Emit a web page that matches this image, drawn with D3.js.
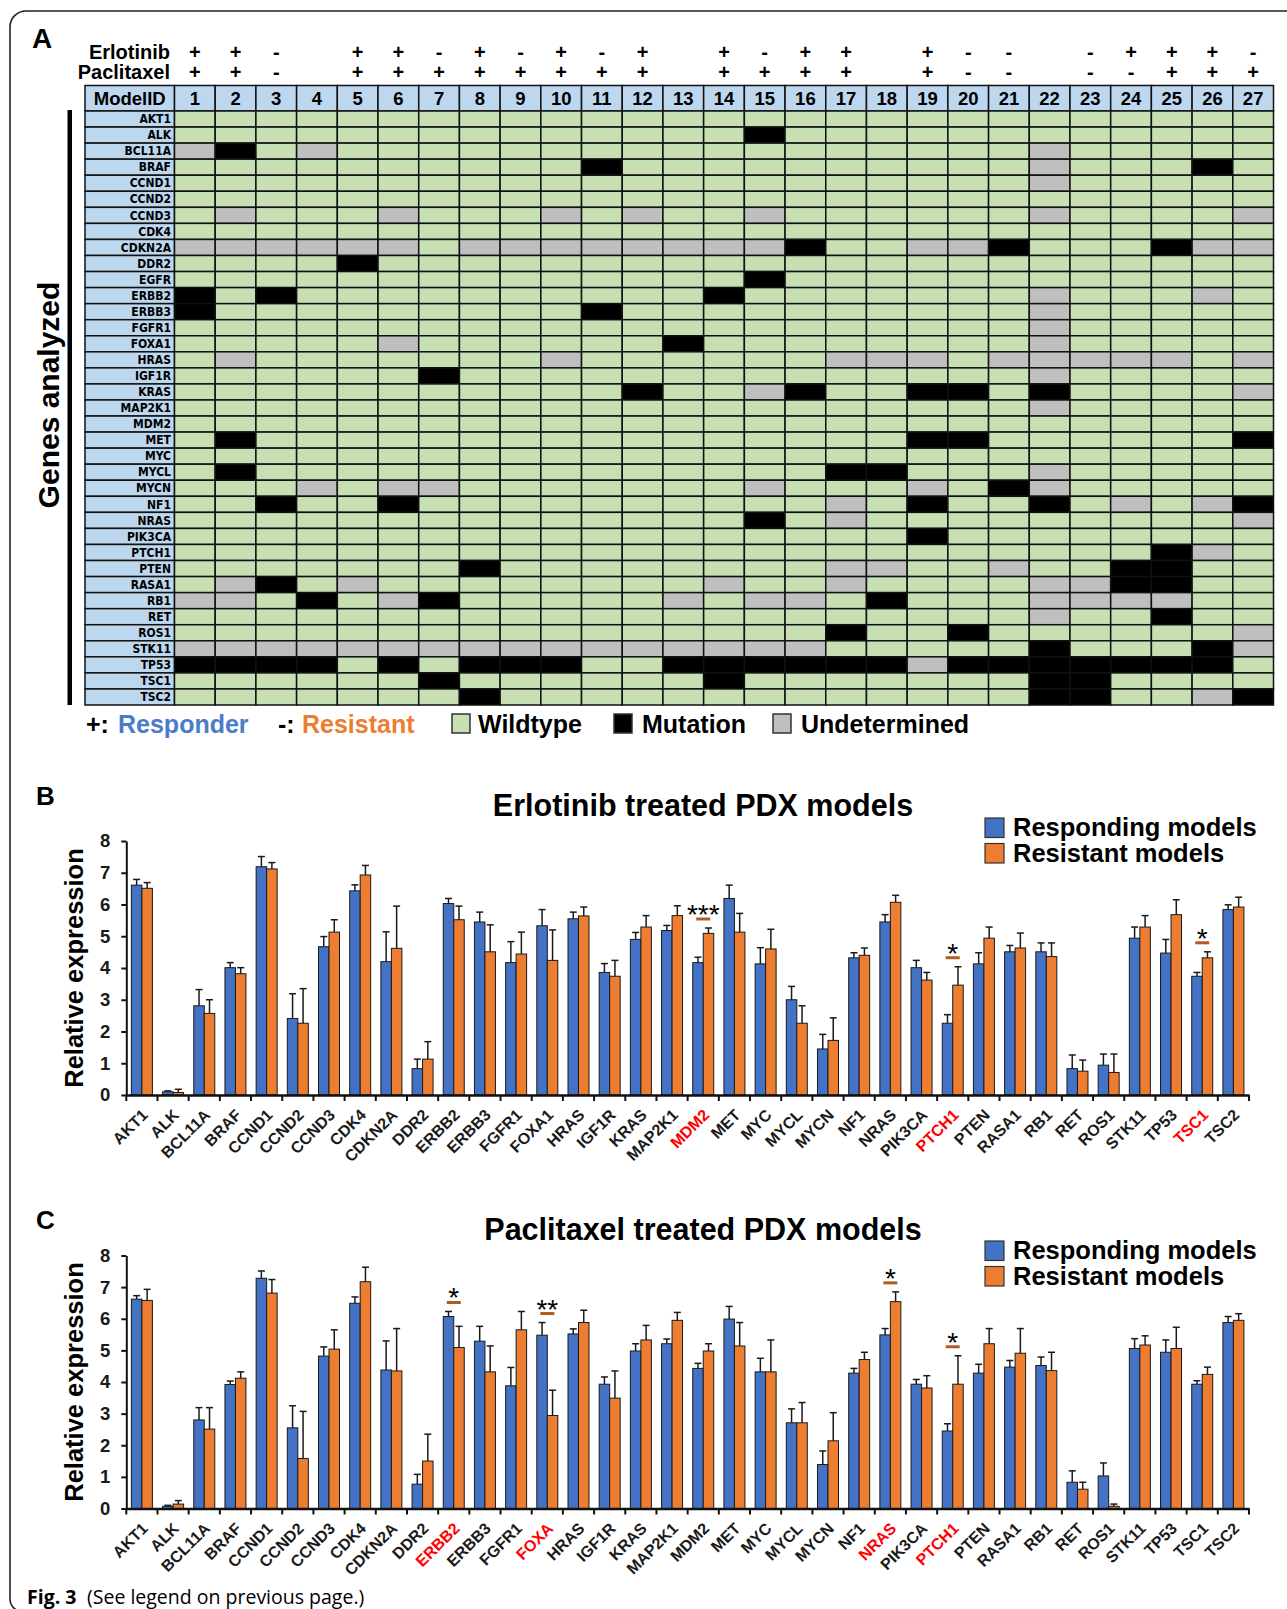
<!DOCTYPE html>
<html><head><meta charset="utf-8">
<script src="https://cdnjs.cloudflare.com/ajax/libs/d3/7.8.5/d3.min.js"></script>
<style>
html,body{margin:0;padding:0;background:#fff;}
text{font-family:"Liberation Sans",Arial,Helvetica,sans-serif;}
</style></head><body>
<svg id="fig" width="1287" height="1609" xmlns="http://www.w3.org/2000/svg"></svg>
<script>
// ---------------- Panel A data ----------------
const models = d3.range(1, 28).map(String);
const erlotinib  = ["+","+","-","","+","+","-","+","-","+","-","+","","+","-","+","+","","+","-","-","","-","+","+","+","-"];
const paclitaxel = ["+","+","-","","+","+","+","+","+","+","+","+","","+","+","+","+","","+","-","-","","-","-","+","+","+"];
const genes = ["AKT1","ALK","BCL11A","BRAF","CCND1","CCND2","CCND3","CDK4","CDKN2A","DDR2","EGFR","ERBB2","ERBB3","FGFR1","FOXA1","HRAS","IGF1R","KRAS","MAP2K1","MDM2","MET","MYC","MYCL","MYCN","NF1","NRAS","PIK3CA","PTCH1","PTEN","RASA1","RB1","RET","ROS1","STK11","TP53","TSC1","TSC2"];
// 0 = Wildtype, 1 = Mutation, 2 = Undetermined ; models 1..27
const geneStatus = [
  "000000000000000000000000000", // AKT1
  "000000000000001000000000000", // ALK
  "210200000000000000000200000", // BCL11A
  "000000000010000000000200010", // BRAF
  "000000000000000000000200000", // CCND1
  "000000000000000000000000000", // CCND2
  "020002000202002000000200002", // CCND3
  "000000000000000000000000000", // CDK4
  "222222022222222100221000122", // CDKN2A
  "000010000000000000000000000", // DDR2
  "000000000000001000000000000", // EGFR
  "101000000000010000000200020", // ERBB2
  "100000000010000000000200000", // ERBB3
  "000000000000000000000200000", // FGFR1
  "000002000000100000000200000", // FOXA1
  "020000000200000022202222202", // HRAS
  "000000100000000000000200000", // IGF1R
  "000000000001002100110100002", // KRAS
  "000000000000000000000200000", // MAP2K1
  "000000000000000000000000000", // MDM2
  "010000000000000000110000001", // MET
  "000000000000000000000000000", // MYC
  "010000000000000011000200000", // MYCL
  "000202200000002000201200000", // MYCN
  "001001000000000020100102021", // NF1
  "000000000000001020000000002", // NRAS
  "000000000000000000100000000", // PIK3CA
  "000000000000000000000000120", // PTCH1
  "000000010000000022002001100", // PTEN
  "021020000000020020000221100", // RASA1
  "220102100000202201000222200", // RB1
  "000000000000000000000200100", // RET
  "000000000000000010010000002", // ROS1
  "222222222222222200000100012", // STK11
  "111101011100111111211111110", // TP53
  "000000100000010000000110000", // TSC1
  "000000010000000000000110021"  // TSC2
];

// ---------------- Panel B data (Erlotinib) ----------------
const catsB = ["AKT1","ALK","BCL11A","BRAF","CCND1","CCND2","CCND3","CDK4","CDKN2A","DDR2","ERBB2","ERBB3","FGFR1","FOXA1","HRAS","IGF1R","KRAS","MAP2K1","MDM2","MET","MYC","MYCL","MYCN","NF1","NRAS","PIK3CA","PTCH1","PTEN","RASA1","RB1","RET","ROS1","STK11","TP53","TSC1","TSC2"];
const bRespMean = [6.61,0.10,2.81,4.01,7.19,2.41,4.67,6.43,4.20,0.83,6.03,5.45,4.17,5.33,5.55,3.86,4.90,5.18,4.17,6.19,4.13,3.00,1.45,4.32,5.45,4.01,2.26,4.13,4.51,4.51,0.83,0.94,4.94,4.47,3.74,5.84];
const bRespErr  = [0.18,0.03,0.51,0.16,0.32,0.78,0.32,0.19,0.94,0.30,0.16,0.31,0.66,0.51,0.21,0.28,0.22,0.16,0.17,0.42,0.51,0.42,0.46,0.16,0.23,0.23,0.27,0.35,0.20,0.28,0.43,0.35,0.35,0.43,0.12,0.15];
const bResMean  = [6.51,0.08,2.57,3.82,7.12,2.26,5.13,6.93,4.62,1.13,5.52,4.51,4.44,4.24,5.64,3.74,5.29,5.65,5.09,5.13,4.60,2.26,1.72,4.40,6.07,3.62,3.46,4.94,4.63,4.36,0.75,0.71,5.29,5.68,4.32,5.92];
const bResErr   = [0.18,0.10,0.43,0.19,0.20,1.09,0.39,0.30,1.33,0.55,0.43,0.85,0.69,0.96,0.28,0.50,0.36,0.31,0.17,0.59,0.62,0.55,0.71,0.23,0.22,0.24,0.58,0.35,0.47,0.43,0.35,0.58,0.36,0.47,0.19,0.31];
const sigB = [{cat:"MDM2", mark:"***"},{cat:"PTCH1", mark:"*"},{cat:"TSC1", mark:"*"}];
const redB = ["MDM2","PTCH1","TSC1"];

// ---------------- Panel C data (Paclitaxel) ----------------
const catsC = ["AKT1","ALK","BCL11A","BRAF","CCND1","CCND2","CCND3","CDK4","CDKN2A","DDR2","ERBB2","ERBB3","FGFR1","FOXA","HRAS","IGF1R","KRAS","MAP2K1","MDM2","MET","MYC","MYCL","MYCN","NF1","NRAS","PIK3CA","PTCH1","PTEN","RASA1","RB1","RET","ROS1","STK11","TP53","TSC1","TSC2"];
const cRespMean = [6.62,0.07,2.80,3.92,7.28,2.55,4.82,6.49,4.38,0.77,6.07,5.29,3.88,5.48,5.52,3.93,4.98,5.21,4.43,5.99,4.32,2.71,1.39,4.28,5.49,3.93,2.45,4.28,4.47,4.52,0.83,1.03,5.06,4.94,3.93,5.88];
const cRespErr  = [0.11,0.03,0.39,0.11,0.23,0.70,0.29,0.20,0.92,0.31,0.16,0.47,0.58,0.40,0.16,0.23,0.23,0.15,0.16,0.40,0.43,0.44,0.43,0.15,0.20,0.15,0.23,0.28,0.21,0.27,0.36,0.41,0.31,0.39,0.11,0.19];
const cResMean  = [6.58,0.14,2.51,4.12,6.81,1.58,5.04,7.17,4.35,1.50,5.09,4.32,5.65,2.94,5.88,3.49,5.33,5.95,4.98,5.14,4.32,2.71,2.14,4.71,6.54,3.81,3.93,5.21,4.91,4.36,0.61,0.07,5.17,5.06,4.24,5.95];
const cResErr   = [0.35,0.11,0.68,0.20,0.43,1.49,0.61,0.46,1.34,0.85,0.67,0.82,0.58,0.80,0.39,0.86,0.46,0.25,0.23,0.74,1.01,0.64,0.89,0.23,0.31,0.39,0.90,0.48,0.78,0.58,0.22,0.07,0.29,0.67,0.23,0.21];
const sigC = [{cat:"ERBB2", mark:"*"},{cat:"FOXA", mark:"**"},{cat:"NRAS", mark:"*"},{cat:"PTCH1", mark:"*"}];
const redC = ["ERBB2","FOXA","NRAS","PTCH1"];

const yTicks = [0,1,2,3,4,5,6,7,8];
const seriesNames = ["Responding models","Resistant models"];
const seriesColors = ["#4472c4","#ed7d31"];

// ---------------- Drawing ----------------
const svg = d3.select("#fig");
const BOLD = "bold";

// frame
svg.append("path")
  .attr("d","M1290,11 H26 A16,16 0 0 0 10,27 V1598 A12,12 0 0 0 20,1611")
  .attr("fill","none").attr("stroke","#222").attr("stroke-width",1.6);

// ===== Panel A =====
svg.append("text").attr("x",32).attr("y",48).attr("font-size",28).attr("font-weight",BOLD).text("A");

const colX = d3.scaleBand().domain(models).range([174.5, 1273.5]);
const rowY = d3.scaleBand().domain(genes).range([111, 705]);
const hm = svg.append("g");
const statusFill = {"0":"#c6e0b4","1":"#000000","2":"#bfbfbf"};

[{label:"Erlotinib", vals:erlotinib, y:59},{label:"Paclitaxel", vals:paclitaxel, y:79}].forEach(t => {
  hm.append("text").attr("x",170).attr("y",t.y).attr("text-anchor","end")
    .attr("font-size",20).attr("font-weight",BOLD).text(t.label);
  hm.selectAll(null).data(models).enter().append("text")
    .attr("x", d => colX(d) + colX.bandwidth()/2).attr("y", t.y)
    .attr("text-anchor","middle").attr("font-size",20).attr("font-weight",BOLD)
    .text((d,i) => t.vals[i]);
});

// header row
hm.append("rect").attr("x",85).attr("y",85.5).attr("width",174.5-85).attr("height",25.5)
  .attr("fill","#bdd7ee").attr("stroke","#111").attr("stroke-width",1.5);
hm.append("text").attr("x",(85+174.5)/2).attr("y",105).attr("text-anchor","middle")
  .attr("font-size",18.5).attr("font-weight",BOLD).text("ModelID");
hm.selectAll(".hc").data(models).enter().append("rect")
  .attr("x", d => colX(d)).attr("y",85.5).attr("width",colX.bandwidth()).attr("height",25.5)
  .attr("fill","#bdd7ee").attr("stroke","#111").attr("stroke-width",1.5);
hm.selectAll(".hn").data(models).enter().append("text")
  .attr("x", d => colX(d) + colX.bandwidth()/2).attr("y",105).attr("text-anchor","middle")
  .attr("font-size",18.5).attr("font-weight",BOLD).text(d => d);

// gene column
hm.selectAll(".gc").data(genes).enter().append("rect")
  .attr("x",85).attr("y", d => rowY(d)).attr("width",174.5-85).attr("height",rowY.bandwidth())
  .attr("fill","#bdd7ee").attr("stroke","#111").attr("stroke-width",1.5);
hm.selectAll(".gl").data(genes).enter().append("text")
  .attr("x",171).attr("y", d => rowY(d) + rowY.bandwidth()/2 + 4.2)
  .attr("text-anchor","end").attr("font-size",12).attr("font-weight",BOLD)
  .style("font-family","'Liberation Sans Narrow','Arial Narrow','DejaVu Sans Condensed',sans-serif")
  .text(d => d);

// cells
const cells = genes.flatMap((g, gi) => models.map((m, mi) => ({g, m, s: geneStatus[gi][mi]})));
hm.selectAll(".cell").data(cells).enter().append("rect")
  .attr("x", d => colX(d.m)).attr("y", d => rowY(d.g))
  .attr("width", colX.bandwidth()).attr("height", rowY.bandwidth())
  .attr("fill", d => statusFill[d.s]).attr("stroke","#111").attr("stroke-width",1.5);

// Genes analyzed
svg.append("text").attr("transform","translate(59,395) rotate(-90)").attr("text-anchor","middle")
  .attr("font-size",30).attr("font-weight",BOLD).text("Genes analyzed");
svg.append("rect").attr("x",67.5).attr("y",110).attr("width",4.5).attr("height",595).attr("fill","#000");

// legend A
const lgA = svg.append("g").attr("font-size",25).attr("font-weight",BOLD);
lgA.append("text").attr("x",86).attr("y",733).text("+: ").append("tspan").attr("x",118).attr("fill","#4a7cc9").text("Responder");
lgA.append("text").attr("x",278).attr("y",733).text("-: ").append("tspan").attr("x",302).attr("fill","#ed7d31").text("Resistant");
[{x:452, fill:"#c6e0b4", label:"Wildtype", tx:478},
 {x:614, fill:"#000000", label:"Mutation", tx:642},
 {x:773, fill:"#bfbfbf", label:"Undetermined", tx:801}].forEach(l => {
  lgA.append("rect").attr("x",l.x).attr("y",714).attr("width",18).attr("height",19)
    .attr("fill",l.fill).attr("stroke","#333").attr("stroke-width",1.5);
  lgA.append("text").attr("x",l.tx).attr("y",733).text(l.label);
});

// ===== Bar charts =====
function drawBars(cfg) {
  const g = svg.append("g");
  const x = d3.scaleBand().domain(cfg.cats).range([126.3, 1249]).padding(0);
  const xs = d3.scaleBand().domain([0,1]).range([0, x.bandwidth()]).paddingInner(0).paddingOuter(0.485);
  const y = d3.scaleLinear().domain([0,8]).range([cfg.y0, cfg.y8]);
  const rows = cfg.cats.flatMap((c,i) => [
    {c, k:0, v:cfg.m[0][i], e:cfg.e[0][i]},
    {c, k:1, v:cfg.m[1][i], e:cfg.e[1][i]}]);

  // letter + title
  g.append("text").attr("x",36).attr("y",cfg.letterY).attr("font-size",26).attr("font-weight",BOLD).text(cfg.letter);
  g.append("text").attr("x",703).attr("y",cfg.titleY).attr("text-anchor","middle")
    .attr("font-size",30.5).attr("font-weight",BOLD).text(cfg.title);

  // bars
  g.selectAll(".bar").data(rows).enter().append("rect")
    .attr("x", d => x(d.c) + xs(d.k)).attr("width", xs.bandwidth())
    .attr("y", d => y(d.v)).attr("height", d => y(0) - y(d.v))
    .attr("fill", d => seriesColors[d.k]).attr("stroke","#1a1a1a").attr("stroke-width",1);
  // error bars
  const eb = g.selectAll(".eb").data(rows).enter().append("g").attr("stroke","#1a1a1a").attr("stroke-width",1.5);
  eb.append("line").attr("x1", d => x(d.c)+xs(d.k)+xs.bandwidth()/2).attr("x2", d => x(d.c)+xs(d.k)+xs.bandwidth()/2)
    .attr("y1", d => y(d.v)).attr("y2", d => y(d.v+d.e));
  eb.append("line").attr("x1", d => x(d.c)+xs(d.k)+xs.bandwidth()/2-3.5).attr("x2", d => x(d.c)+xs(d.k)+xs.bandwidth()/2+3.5)
    .attr("y1", d => y(d.v+d.e)).attr("y2", d => y(d.v+d.e));

  // y axis
  const ya = g.append("g").attr("transform",`translate(${x.range()[0]},0)`)
    .call(d3.axisLeft(y).tickValues(yTicks).tickFormat(d3.format("d")).tickSize(5).tickSizeOuter(0).tickPadding(11));
  ya.select(".domain").attr("stroke","#111").attr("stroke-width",2);
  ya.selectAll(".tick line").attr("stroke","#111").attr("stroke-width",2);
  ya.selectAll(".tick text").attr("font-size",18.5).attr("font-weight",BOLD).attr("fill","#1a1a1a")
    .style("font-family","'Liberation Sans',Arial,sans-serif");

  // x axis line + boundary ticks
  const xa = g.append("g").attr("transform",`translate(0,${cfg.y0})`)
    .call(d3.axisBottom(x).tickSize(0).tickSizeOuter(0).tickFormat(""));
  xa.select(".domain").attr("stroke","#111").attr("stroke-width",2.5);
  const bounds = cfg.cats.map(c => x(c)).concat([x.range()[1]]);
  g.selectAll(".xt").data(bounds).enter().append("line")
    .attr("x1", d => d).attr("x2", d => d).attr("y1", cfg.y0).attr("y2", cfg.y0 + 6)
    .attr("stroke","#111").attr("stroke-width",2);
  g.selectAll(".xl").data(cfg.cats).enter().append("text")
    .attr("transform", d => `translate(${x(d) + x.bandwidth()/2 + 3},${cfg.y0 + 17}) rotate(-45)`)
    .attr("text-anchor","end").attr("dy","0.35em").attr("font-size",16).attr("font-weight",BOLD)
    .attr("fill", d => cfg.red.includes(d) ? "#ff0000" : "#1a1a1a").text(d => d);

  // y label
  g.append("text").attr("transform",`translate(83,${(cfg.y0+cfg.y8)/2}) rotate(-90)`)
    .attr("text-anchor","middle").attr("font-size",25.5).attr("font-weight",BOLD).text("Relative expression");

  // significance
  cfg.sig.forEach(s => {
    const i = cfg.cats.indexOf(s.cat);
    const top = Math.min(y(cfg.m[0][i]+cfg.e[0][i]), y(cfg.m[1][i]+cfg.e[1][i]));
    const by = top - 9;
    const cx = x(s.cat) + x.bandwidth()/2;
    g.append("line").attr("x1",cx-7).attr("x2",cx+7).attr("y1",by).attr("y2",by)
      .attr("stroke","#b35a1f").attr("stroke-width",3);
    g.append("text").attr("x",cx).attr("y",by+5).attr("text-anchor","middle")
      .attr("font-size",28).text(s.mark);
  });

  // legend
  seriesNames.forEach((n,k) => {
    g.append("rect").attr("x",985).attr("y",cfg.legendY + k*25.5).attr("width",19).attr("height",19.5)
      .attr("fill",seriesColors[k]).attr("stroke","#333").attr("stroke-width",1.2);
    g.append("text").attr("x",1013).attr("y",cfg.legendY + 17.5 + k*26)
      .attr("font-size",25.5).attr("font-weight",BOLD).text(n);
  });
}

drawBars({cats:catsB, m:[bRespMean,bResMean], e:[bRespErr,bResErr], y0:1095, y8:841,
  title:"Erlotinib treated PDX models", titleY:816, letter:"B", letterY:805, legendY:818, sig:sigB, red:redB});
drawBars({cats:catsC, m:[cRespMean,cResMean], e:[cRespErr,cResErr], y0:1508.5, y8:1255.5,
  title:"Paclitaxel treated PDX models", titleY:1240, letter:"C", letterY:1229, legendY:1241, sig:sigC, red:redC});

// caption
const cap = svg.append("text").attr("x",27).attr("y",1604).attr("font-size",19.5)
  .style("font-family","'Open Sans','Noto Sans',sans-serif");
cap.append("tspan").attr("font-weight",BOLD).text("Fig. 3");
cap.append("tspan").attr("x",87).text("(See legend on previous page.)");
</script></body></html>
